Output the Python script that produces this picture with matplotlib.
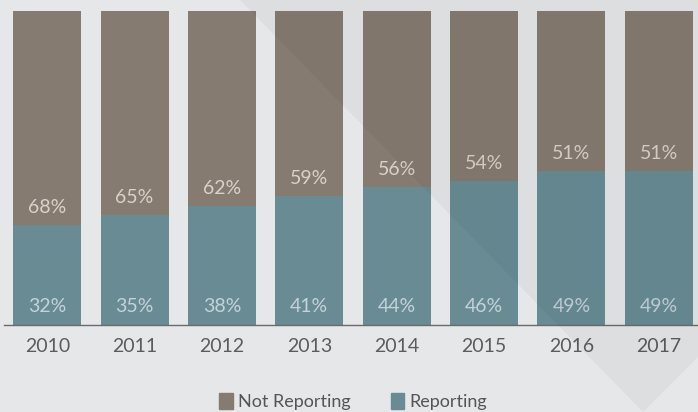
import matplotlib
matplotlib.use("Agg")
import matplotlib.pyplot as plt
import matplotlib.patches as patches
import numpy as np

years = ["2010", "2011", "2012", "2013", "2014", "2015", "2016", "2017"]
reporting = [32, 35, 38, 41, 44, 46, 49, 49]
not_reporting = [68, 65, 62, 59, 56, 54, 51, 51]

bg_color = "#e6e7e9"
brown = "#857b70"
teal = "#688b94"

W, H = 698, 412
fig = plt.figure(figsize=(W / 100, H / 100), dpi=100, facecolor=bg_color)
ax = fig.add_axes([3.6 / W, 87 / H, (W - 3.6) / W, 314 / H])
ax.set_facecolor("none")

x = np.arange(len(years))
ax.bar(x, reporting, width=0.78, color=teal, label="Reporting", zorder=2)
ax.bar(x, not_reporting, width=0.78, bottom=reporting, color=brown,
       label="Not Reporting", zorder=2)

for i in range(len(years)):
    ax.text(x[i], 6, f"{reporting[i]}%", ha="center", va="center",
            fontsize=14, color="#c4d3d7", family="Lato", zorder=3)
    ax.text(x[i], reporting[i] + 5.5, f"{not_reporting[i]}%", ha="center", va="center",
            fontsize=14, color="#d9d2cb", family="Lato", zorder=3)

ax.set_xlim(-0.5, 7.45)
ax.set_ylim(0, 100)
ax.set_xticks(x)
ax.set_xticklabels(years, fontsize=14, color="#5c5c5c", family="Lato")
ax.tick_params(axis="x", length=0, pad=9)
ax.set_yticks([])
for side in ["top", "right", "left"]:
    ax.spines[side].set_visible(False)
ax.spines["bottom"].set_color("#6b6b6b")
ax.spines["bottom"].set_linewidth(1.0)
ax.spines["bottom"].set_zorder(4)

# shaded diagonal wedge across the upper right
pts = [(240, 0), (W, 0), (W, 357), (643, H)]
wedge = patches.Polygon([(px / W, 1 - py / H) for px, py in pts], closed=True,
                        transform=fig.transFigure, facecolor="#000000",
                        alpha=0.035, edgecolor="none", zorder=5)
fig.add_artist(wedge)

handles = [patches.Patch(color=brown), patches.Patch(color=teal)]
fig.legend(handles, ["Not Reporting", "Reporting"], loc="center",
           bbox_to_anchor=(0.506, 0.025), ncol=2, frameon=False,
           handlelength=0.75, handleheight=1.0, handletextpad=0.3,
           columnspacing=2.2, prop={"family": "Lato", "size": 13},
           labelcolor="#555555")

fig.savefig("out.png", dpi=100, facecolor=bg_color)
